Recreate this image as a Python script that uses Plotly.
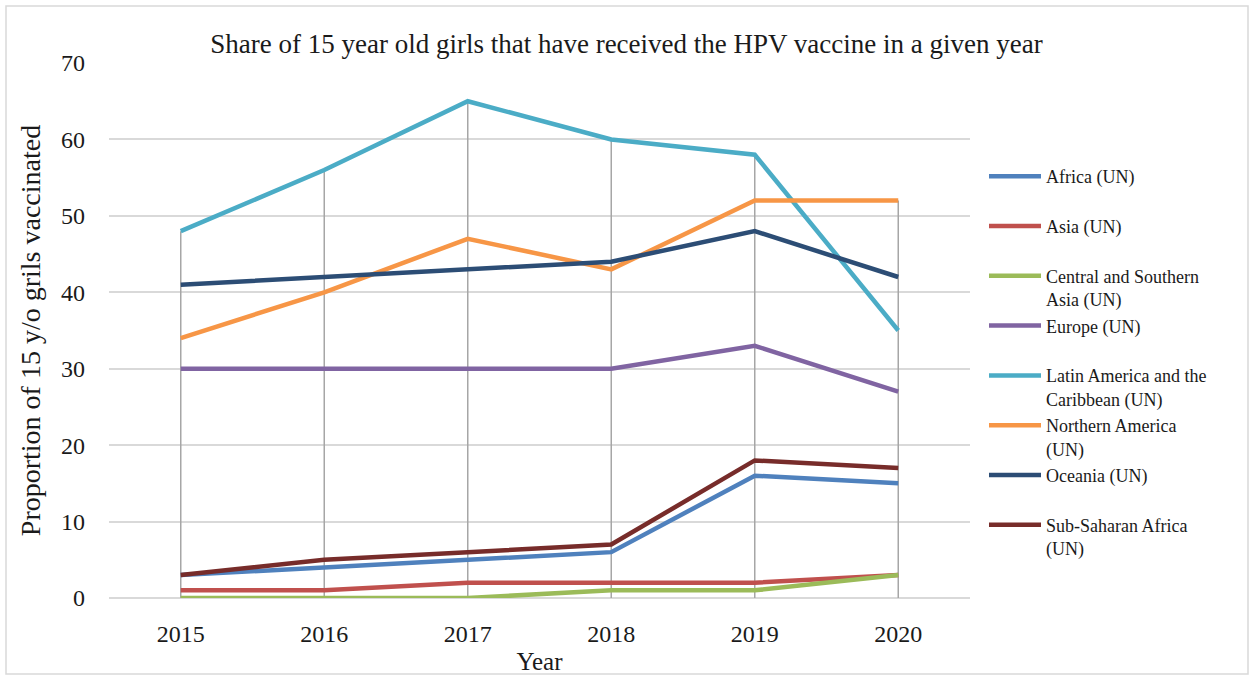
import plotly.graph_objects as go

years = ["2015", "2016", "2017", "2018", "2019", "2020"]
series_names = [
    "Africa (UN)",
    "Asia (UN)",
    "Central and Southern<br>Asia (UN)",
    "Europe (UN)",
    "Latin America and the<br>Caribbean (UN)",
    "Northern America<br>(UN)",
    "Oceania (UN)",
    "Sub-Saharan Africa<br>(UN)",
]
africa = [3, 4, 5, 6, 16, 15]
asia = [1, 1, 2, 2, 2, 3]
central_southern_asia = [0, 0, 0, 1, 1, 3]
europe = [30, 30, 30, 30, 33, 27]
latin_america = [48, 56, 65, 60, 58, 35]
northern_america = [34, 40, 47, 43, 52, 52]
oceania = [41, 42, 43, 44, 48, 42]
sub_saharan_africa = [3, 5, 6, 7, 18, 17]

all_series = [africa, asia, central_southern_asia, europe, latin_america,
              northern_america, oceania, sub_saharan_africa]
colors = ["#4f81bd", "#c0504d", "#9bbb59", "#8064a2", "#4bacc6",
          "#f79646", "#2c4d75", "#772c2a"]

FONT = "Liberation Serif"

fig = go.Figure()

# drop lines from the highest point to the axis at each year
dx, dy = [], []
for i, yr in enumerate(years):
    top = max(s[i] for s in all_series)
    dx += [yr, yr, None]
    dy += [top, 0, None]
fig.add_trace(go.Scatter(x=dx, y=dy, mode="lines", line=dict(color="#a6a6a6", width=1.5),
                         showlegend=False, hoverinfo="skip"))

for name, vals, col in zip(series_names, all_series, colors):
    label = name if "<br>" in name else name + "<br> "
    fig.add_trace(go.Scatter(x=years, y=vals, mode="lines", name=label,
                             line=dict(color=col, width=4.5)))

W, H = 1253, 675
L, R, T, B = 109, 283, 63, 77
pw, ph = W - L - R, H - T - B

def px_x(p):
    return (p - L) / pw

def px_y(p):
    return (H - B - p) / ph

fig.add_shape(type="rect", xref="paper", yref="paper",
              x0=px_x(6), x1=px_x(1248), y0=px_y(674), y1=px_y(6),
              line=dict(color="#d9d9d9", width=1.5), fillcolor="rgba(0,0,0,0)", layer="below")

fig.update_layout(
    width=W, height=H,
    margin=dict(l=L, r=R, t=T, b=B),
    paper_bgcolor="white", plot_bgcolor="white",
    font=dict(family=FONT, color="#1a1a1a"),
    title=dict(text="Share of 15 year old girls that have received the HPV vaccine in a given year",
               x=0.5, xref="container", xanchor="center", y=1 - 44 / H, yanchor="middle",
               font=dict(size=27, family=FONT, color="#1a1a1a")),
    xaxis=dict(type="category", range=[-0.5, 5.5], showgrid=False, zeroline=False,
               showline=False, ticks="", tickfont=dict(size=24, family=FONT, color="#1a1a1a"),
               ticklabelstandoff=19, automargin=False,
               title=dict(text="Year", font=dict(size=25, family=FONT, color="#1a1a1a"), standoff=6)),
    yaxis=dict(range=[0, 70], dtick=10, showgrid=True, gridcolor="#d9d9d9", gridwidth=2,
               zeroline=True, zerolinecolor="#d9d9d9", zerolinewidth=2, showline=False,
               ticks="", tickfont=dict(size=24, family=FONT, color="#1a1a1a"),
               ticklabelstandoff=23, automargin=False,
               title=dict(text="Proportion of 15 y/o grils vaccinated",
                          font=dict(size=28, family=FONT, color="#1a1a1a"), standoff=12)),
    legend=dict(x=px_x(984), xanchor="left", y=px_y(158), yanchor="top",
                font=dict(size=18, family=FONT, color="#1a1a1a"),
                valign="top", itemwidth=52, tracegroupgap=0,
                bgcolor="rgba(0,0,0,0)"),
)

fig.write_html("out.html")
